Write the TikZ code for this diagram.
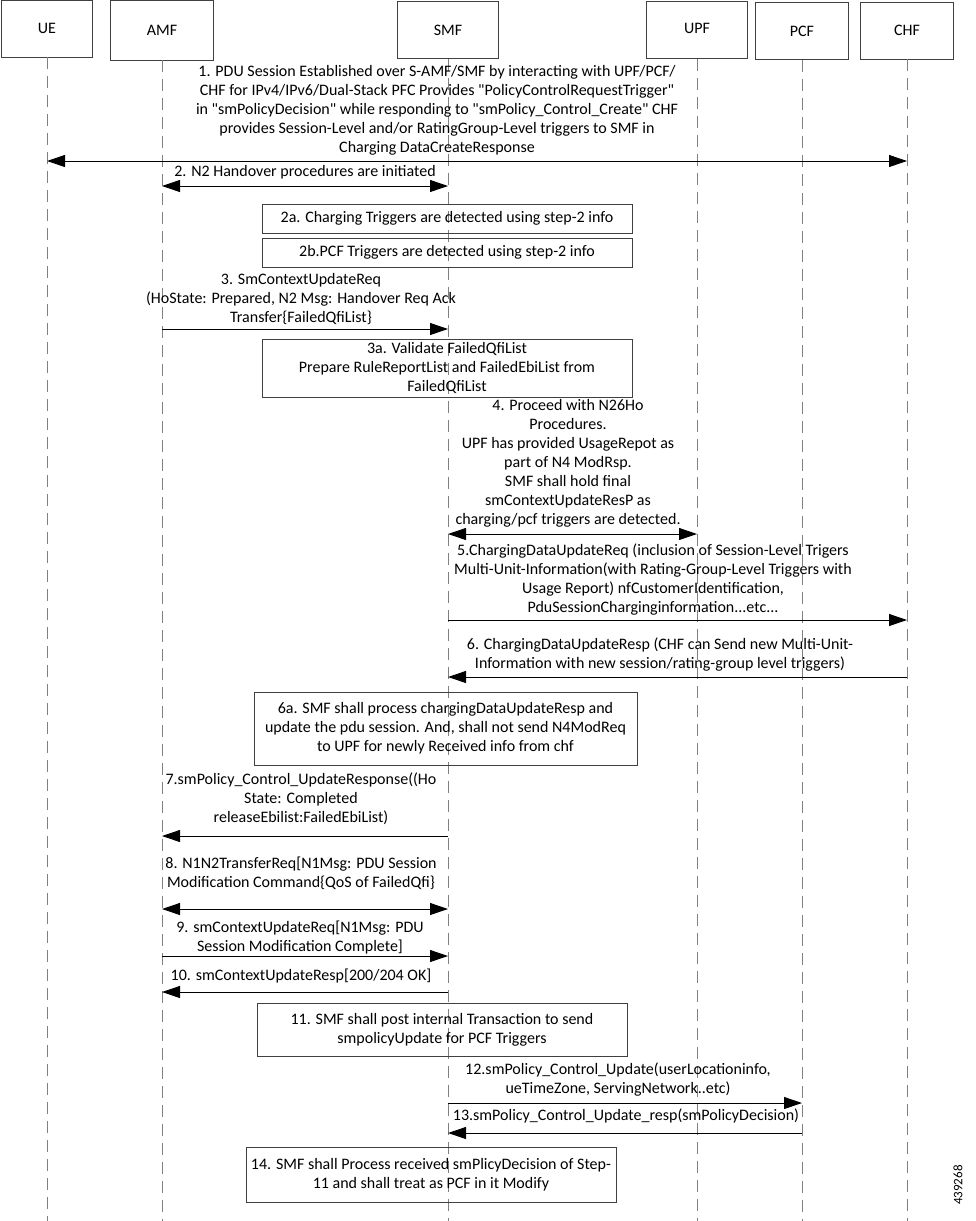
\documentclass[tikz,border=0pt]{standalone}
\usepackage{fontspec}
\newfontfamily\cfont{Carlito}
\usetikzlibrary{arrows.meta}
\begin{document}
\begin{tikzpicture}[x=1pt,y=-1pt,
  every node/.style={font=\cfont\fontsize{16}{19}\selectfont, inner sep=0pt},
  hdr/.style={draw=black!75, line width=0.9pt, minimum height=57pt},
  life/.style={draw=black!50, line width=1pt, dash pattern=on 12pt off 7pt},
  box/.style={draw=black!75, line width=0.9pt},
  txt/.style={align=center},
  msg/.style={line width=0.9pt, -{Triangle[length=18pt,width=12pt]}},
  bmsg/.style={line width=0.9pt, {Triangle[length=18pt,width=12pt]}-{Triangle[length=18pt,width=12pt]}}
]
\useasboundingbox (0,0) rectangle (976,1221);
% headers
\node[hdr, minimum width=91pt]  (ue)  at (47,28.5) {UE};
\node[hdr, minimum width=103pt, minimum height=60pt] (amf) at (162,30) {AMF};
\node[hdr, minimum width=101pt] (smf) at (448,30) {SMF};
\node[hdr, minimum width=101pt] (upf) at (697,30) {};
\node (upft) at (697,28) {UPF};
\node[hdr, minimum width=93pt]  (pcf) at (802,31) {PCF};
\node[hdr, minimum width=93pt]  (chf) at (907,30.5) {CHF};
% lifeline ends
\coordinate (ueB)  at (ue.south |- 0,1221);
\coordinate (amfB) at (amf.south |- 0,1221);
\coordinate (smfB) at (smf.south |- 0,1221);
\coordinate (upfB) at (upf.south |- 0,1221);
\coordinate (pcfB) at (pcf.south |- 0,1221);
\coordinate (chfB) at (chf.south |- 0,1221);
\draw[life] (ue.south) -- (ueB);
\draw[life] (amf.south) -- (amfB);
\draw[life] (smf.south) -- (smfB);
\draw[life] (upf.south) -- (upfB);
\draw[life] (pcf.south) -- (pcfB);
\draw[life] (chf.south) -- (chfB);

% 1
\node[txt] (t1) at (437,110) {1. PDU Session Established over S-AMF/SMF by interacting with UPF/PCF/\\CHF for IPv4/IPv6/Dual-Stack PFC Provides "PolicyControlRequestTrigger"\\in "smPolicyDecision" while responding to "smPolicy\_Control\_Create" CHF\\provides Session-Level and/or RatingGroup-Level triggers to SMF in\\Charging DataCreateResponse};
\draw[bmsg] (ue.south |- 0,161) -- (chf.south |- 0,161);
% 2
\node[txt] (t2) at (305,172) {2. N2 Handover procedures are initiated};
\draw[bmsg] (amf.south |- 0,186) -- (smf.south |- 0,186);
% 2a 2b
\node[box, minimum width=370pt, minimum height=29pt] (b2a) at (447,218.5) {2a. Charging Triggers are detected using step-2 info};
\node[box, minimum width=370pt, minimum height=29pt] (b2b) at (447,252.5) {2b.PCF Triggers are detected using step-2 info};
% 3
\node[txt] (t3) at (301,299) {3. SmContextUpdateReq\\(HoState: Prepared, N2 Msg: Handover Req Ack\\Transfer\{FailedQfiList\}};
\draw[msg] (amf.south |- 0,329) -- (smf.south |- 0,329);
% 3a
\node[box, txt, minimum width=370pt, minimum height=58pt] (b3a) at (447,368) {3a. Validate FailedQfiList\\Prepare RuleReportList and FailedEbiList from\\FailedQfiList};
% 4
\node[txt] (t4) at (568,463.5) {4. Proceed with N26Ho\\Procedures.\\UPF has provided UsageRepot as\\part of N4 ModRsp.\\SMF shall hold final\\smContextUpdateResP as\\charging/pcf triggers are detected.};
\draw[bmsg] (smf.south |- 0,534) -- (upf.south |- 0,534);
% 5
\node[txt] (t5) at (653,580) {5.ChargingDataUpdateReq (inclusion of Session-Level Trigers\\Multi-Unit-Information(with Rating-Group-Level Triggers with\\Usage Report) nfCustomerIdentification,\\PduSessionCharginginformation...etc...};
\draw[msg] (smf.south |- 0,620) -- (chf.south |- 0,620);
% 6
\node[txt] (t6) at (660,654.5) {6. ChargingDataUpdateResp (CHF can Send new Multi-Unit-\\Information with new session/rating-group level triggers)};
\draw[msg] (chf.south |- 0,677) -- (smf.south |- 0,677);
% 6a
\node[box, txt, minimum width=383pt, minimum height=73pt] (b6a) at (445.5,728.5) {6a. SMF shall process chargingDataUpdateResp and\\update the pdu session. And, shall not send N4ModReq\\to UPF for newly Received info from chf};
% 7
\node[txt] (t7) at (301,798.5) {7.smPolicy\_Control\_UpdateResponse((Ho\\State: Completed\\releaseEbilist:FailedEbiList)};
\draw[msg] (smf.south |- 0,836) -- (amf.south |- 0,836);
% 8
\node[txt] (t8) at (301,873.5) {8. N1N2TransferReq[N1Msg: PDU Session\\Modification Command\{QoS of FailedQfi\}};
\draw[bmsg] (amf.south |- 0,909) -- (smf.south |- 0,909);
% 9
\node[txt] (t9) at (300,937.5) {9. smContextUpdateReq[N1Msg: PDU\\Session Modification Complete]};
\draw[msg] (amf.south |- 0,956) -- (smf.south |- 0,956);
% 10
\node[txt] (t10) at (301,976) {10. smContextUpdateResp[200/204 OK]};
\draw[msg] (smf.south |- 0,992) -- (amf.south |- 0,992);
% 11
\node[box, txt, minimum width=370pt, minimum height=53pt] (b11) at (442,1029.5) {11. SMF shall post internal Transaction to send\\smpolicyUpdate for PCF Triggers};
% 12
\node[txt] (t12) at (618,1080) {12.smPolicy\_Control\_Update(userLocationinfo,\\ueTimeZone, ServingNetwork..etc)};
\draw[msg] (smf.south |- 0,1103) -- (pcf.south |- 0,1103);
% 13
\node[txt] (t13) at (626,1116) {13.smPolicy\_Control\_Update\_resp(smPolicyDecision)};
\draw[msg] (pcf.south |- 0,1133) -- (smf.south |- 0,1133);
% 14
\node[box, txt, minimum width=370pt, minimum height=55pt] (b14) at (431,1174.5) {14. SMF shall Process received smPlicyDecision of Step-\\11 and shall treat as PCF in it Modify};
% id
\node[rotate=90, font=\cfont\fontsize{13}{15}\selectfont] (id) at (958,1185) {439268};
\end{tikzpicture}
\end{document}
